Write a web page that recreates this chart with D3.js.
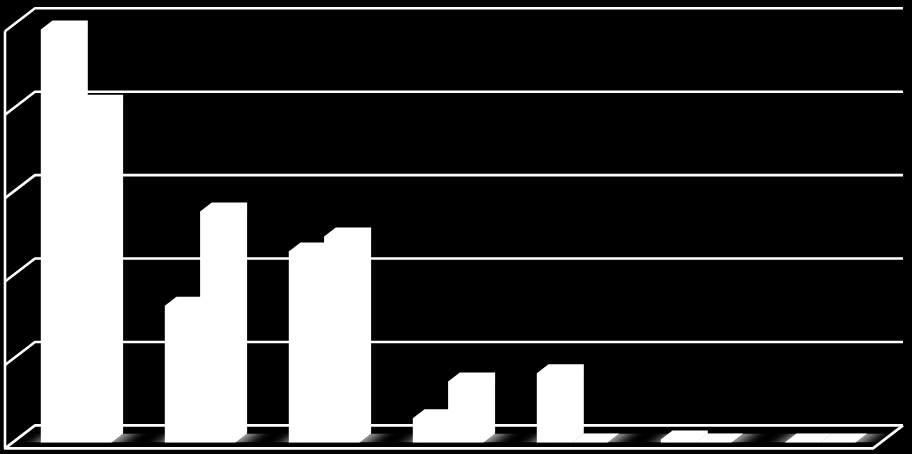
<!DOCTYPE html>
<html>
<head>
<meta charset="utf-8">
<script src="https://cdn.jsdelivr.net/npm/d3@7"></script>
<style>
  html, body { margin: 0; padding: 0; background: #000; }
  svg { display: block; }
</style>
</head>
<body>
<svg id="chart"></svg>
<script>
const categories = [1, 2, 3, 4, 5, 6, 7]
const seriesA = [4.95, 1.64, 2.29, 0.29, 0.83, 0.035, 0]
const seriesB = [4.06, 2.77, 2.47, 0.73, 0, 0, 0]
const gridTicks = [0, 1, 2, 3, 4, 5]

const svgWidth = 912
const svgHeight = 454

// 3D box of the chart: the front plane is pushed down-left from the back wall
const wall = { dx: 30, dy: 23 }
const bar = { dx: 11.7, dy: 9, left: 35.8, width: 35.3 }
const backLeft = 35
const backRight = 903
const backBottom = 425.4
const backTop = 8.3

const svg = d3.select('#chart')
  .attr('width', svgWidth)
  .attr('height', svgHeight)

const x = d3.scaleBand().domain(categories).range([backLeft - wall.dx, backRight - wall.dx])
const y = d3.scaleLinear().domain([0, 5]).range([backBottom, backTop])

const defs = svg.append('defs')
defs.append('filter')
  .attr('id', 'floorBlur')
  .attr('x', '-40%').attr('width', '180%')
  .attr('y', '-20%').attr('height', '140%')
  .append('feGaussianBlur')
  .attr('stdDeviation', '8 0.5')

// bar floor strip, the shadows must not leak out of it
const floorFront = 442.5
const floorBack = floorFront - bar.dy

defs.append('clipPath')
  .attr('id', 'floorClip')
  .append('rect')
  .attr('x', 0)
  .attr('width', svgWidth)
  .attr('y', floorBack)
  .attr('height', bar.dy)

// gridlines, back wall and the slanted bit on the side wall
const grid = svg.append('g')
  .attr('fill', 'none')
  .attr('stroke', '#fff')
  .attr('stroke-width', 2.6)
  .attr('stroke-linejoin', 'round')

grid.selectAll('path')
  .data(gridTicks)
  .join('path')
  .attr('d', d => `M${backLeft - wall.dx},${y(d) + wall.dy}L${backLeft},${y(d)}L${backRight},${y(d)}`)

// wall and floor outline
grid.append('path')
  .attr('d', `M${backLeft - wall.dx},${y(5) + wall.dy}V${y(0) + wall.dy}H${backRight - wall.dx}L${backRight},${y(0)}`)

// soft grey shadow next to each pair of bars
const shadowPath = i => {
  const x0 = x(categories[i]) + bar.left - 4
  const x1 = x0 + bar.width * 2 + 14
  return `M${x0},${floorFront}L${x0 + bar.dx},${floorBack}H${x1 + bar.dx}L${x1},${floorFront}Z`
}

svg.append('g')
  .attr('clip-path', 'url(#floorClip)')
  .selectAll('path')
  .data(categories)
  .join('path')
  .attr('d', (d, i) => shadowPath(i))
  .attr('fill', '#a0a0a0')
  .attr('filter', 'url(#floorBlur)')

// a bar is a front face, a top and a right side, all white so one outline does it
const barPath = (value, i, slot) => {
  const x0 = x(categories[i]) + bar.left + slot * bar.width
  const x1 = x0 + bar.width
  const top = y(value) + (floorBack - y(0))
  return `M${x0},${floorFront}V${top + bar.dy}L${x0 + bar.dx},${top}H${x1 + bar.dx}V${floorBack}L${x1},${floorFront}Z`
}

const series = [seriesA, seriesB]

series.forEach((values, slot) => {
  svg.append('g')
    .attr('fill', '#fff')
    .selectAll('path')
    .data(values)
    .join('path')
    .attr('d', (d, i) => barPath(d, i, slot))
})
</script>
</body>
</html>
